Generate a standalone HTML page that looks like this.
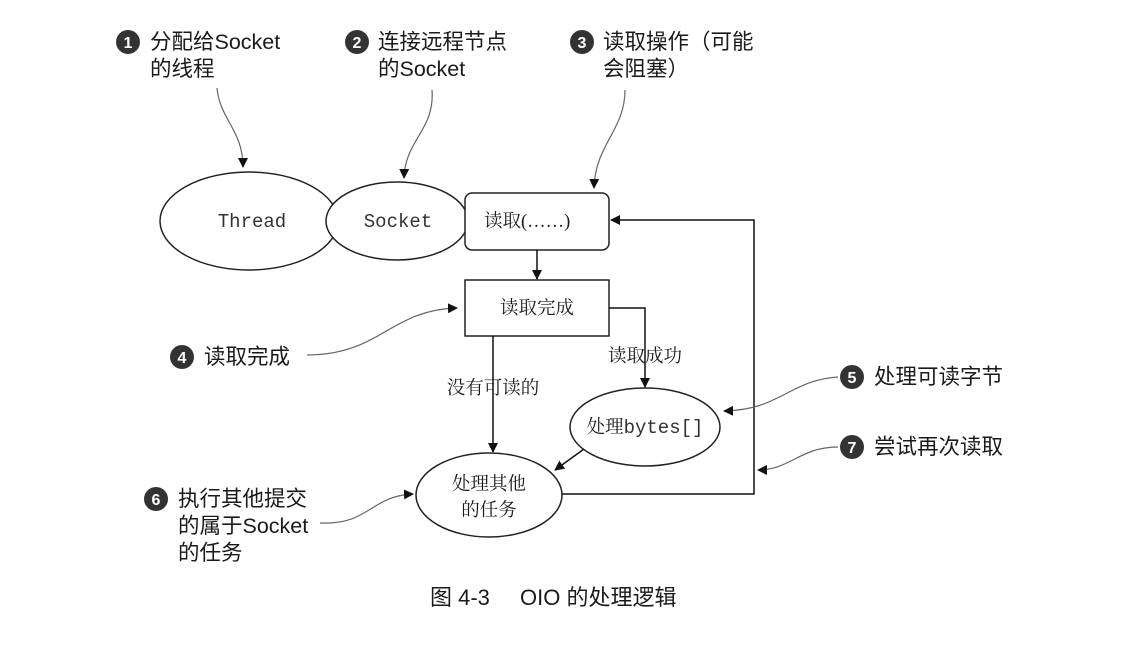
<!DOCTYPE html>
<html><head><meta charset="utf-8"><style>
html,body{margin:0;padding:0;background:#fff;}
svg{display:block;}
.a{font-family:"Liberation Sans","Noto Sans CJK SC",sans-serif;font-size:21.5px;fill:#1a1a1a;}
.n{font-family:"Liberation Serif","Noto Serif CJK SC",serif;font-size:18.5px;fill:#1a1a1a;}
.m{font-family:"Liberation Mono","Noto Serif CJK SC",monospace;font-size:19px;fill:#333;}
.c{fill:#333;}
.cn{font-family:"Liberation Sans",sans-serif;font-size:16px;fill:#fff;font-weight:bold;}
</style></head><body>
<svg width="1132" height="652" viewBox="0 0 1132 652" xmlns="http://www.w3.org/2000/svg">
<defs>
<marker id="ar" markerWidth="10" markerHeight="10" refX="9" refY="5" orient="auto" markerUnits="userSpaceOnUse"><path d="M0,0 L10,5 L0,10 z" fill="#111"/></marker>
</defs>
<g fill="#fff" stroke="#222" stroke-width="1.5">
<ellipse cx="249" cy="221" rx="89" ry="49"/>
<ellipse cx="397" cy="221" rx="71" ry="39"/>
<rect x="465" y="193" width="144" height="57" rx="7"/>
<rect x="465" y="280" width="144" height="56"/>
<ellipse cx="645" cy="427" rx="75" ry="39"/>
<ellipse cx="489" cy="495" rx="73" ry="42"/>
</g>
<g stroke="#111" stroke-width="1.5" fill="none">
<line x1="537" y1="250" x2="537" y2="279" marker-end="url(#ar)"/>
<polyline points="609,308 645,308 645,387" marker-end="url(#ar)"/>
<line x1="493" y1="336" x2="493" y2="452" marker-end="url(#ar)"/>
<line x1="584" y1="449" x2="555" y2="470" marker-end="url(#ar)"/>
<polyline points="562,494 754,494 754,220 611,220" marker-end="url(#ar)"/>
</g>
<g stroke="#666" stroke-width="1.2" fill="none">
<path d="M217,88 C220,120 243,130 243,167" marker-end="url(#ar)"/>
<path d="M432,90 C435,130 405,140 404,178" marker-end="url(#ar)"/>
<path d="M625,90 C625,130 595,145 594,188" marker-end="url(#ar)"/>
<path d="M307,355 C380,355 390,310 457,308" marker-end="url(#ar)"/>
<path d="M838,377 C790,380 780,410 724,411" marker-end="url(#ar)"/>
<path d="M838,447 C800,447 790,470 758,470" marker-end="url(#ar)"/>
<path d="M320,523 C370,525 370,496 413,494" marker-end="url(#ar)"/>
</g>
<text class="m" x="252" y="227" text-anchor="middle">Thread</text>
<text class="m" x="398" y="227" text-anchor="middle">Socket</text>
<text class="n" x="484" y="227">读取(……)</text>
<text class="n" x="537" y="314" text-anchor="middle">读取完成</text>
<text class="n" x="645" y="362" text-anchor="middle">读取成功</text>
<text class="n" x="493" y="394" text-anchor="middle">没有可读的</text>
<text x="645" y="433" text-anchor="middle"><tspan class="n">处理</tspan><tspan class="m">bytes[]</tspan></text>
<text class="n" x="489" y="490" text-anchor="middle">处理其他</text>
<text class="n" x="489" y="516" text-anchor="middle">的任务</text>
<g>
<circle class="c" cx="128" cy="42" r="12"/><text class="cn" x="128" y="48" text-anchor="middle">1</text>
<text class="a" x="150" y="49">分配给Socket</text><text class="a" x="150" y="76">的线程</text>
<circle class="c" cx="357" cy="42" r="12"/><text class="cn" x="357" y="48" text-anchor="middle">2</text>
<text class="a" x="378" y="49">连接远程节点</text><text class="a" x="378" y="76">的Socket</text>
<circle class="c" cx="582" cy="42" r="12"/><text class="cn" x="582" y="48" text-anchor="middle">3</text>
<text class="a" x="603" y="49">读取操作（可能</text><text class="a" x="603" y="76">会阻塞）</text>
<circle class="c" cx="182" cy="357" r="12"/><text class="cn" x="182" y="363" text-anchor="middle">4</text>
<text class="a" x="204" y="364">读取完成</text>
<circle class="c" cx="852" cy="377" r="12"/><text class="cn" x="852" y="383" text-anchor="middle">5</text>
<text class="a" x="874" y="384">处理可读字节</text>
<circle class="c" cx="852" cy="447" r="12"/><text class="cn" x="852" y="453" text-anchor="middle">7</text>
<text class="a" x="874" y="454">尝试再次读取</text>
<circle class="c" cx="156" cy="499" r="12"/><text class="cn" x="156" y="505" text-anchor="middle">6</text>
<text class="a" x="178" y="506">执行其他提交</text><text class="a" x="178" y="533">的属于Socket</text><text class="a" x="178" y="560">的任务</text>
</g>
<text class="a" x="430" y="605" style="font-size:22px">图 4-3</text>
<text class="a" x="520" y="605" style="font-size:22px">OIO 的处理逻辑</text>
</svg>
</body></html>
